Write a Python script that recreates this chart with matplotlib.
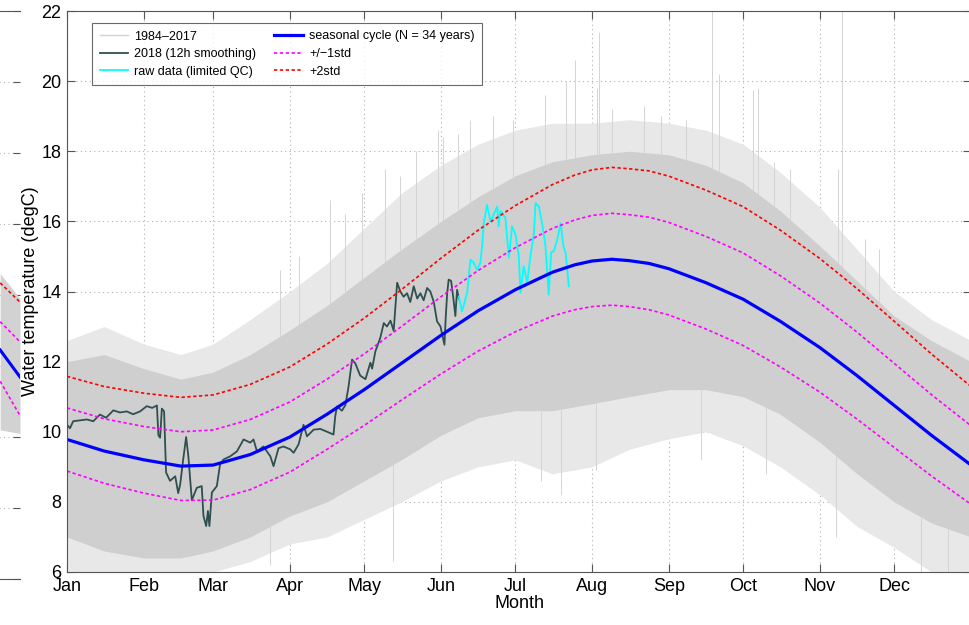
import numpy as np
import matplotlib
matplotlib.use("Agg")
import matplotlib.pyplot as plt

plt.rcParams['font.family'] = ['Liberation Sans', 'DejaVu Sans']

# month ticks (day of year)
month_days = [0, 31, 59, 90, 120, 151, 181, 212, 243, 273, 304, 334]
month_labels = ['Jan', 'Feb', 'Mar', 'Apr', 'May', 'Jun',
                'Jul', 'Aug', 'Sep', 'Oct', 'Nov', 'Dec']

# climatology, read every ~half month (a bit denser round the peak)
clim_days = [0, 15, 31, 46, 59, 74, 90, 105, 120, 135, 151, 166, 181,
             196, 205, 212, 220, 227, 235, 243, 258, 273, 288, 304, 319,
             334, 349, 365]
seasonal = [9.78, 9.45, 9.20, 9.02, 9.05, 9.35, 9.85, 10.50, 11.20, 11.95,
            12.75, 13.45, 14.05, 14.55, 14.76, 14.87, 14.92, 14.88, 14.80,
            14.65, 14.25, 13.78, 13.15, 12.40, 11.60, 10.75, 9.90, 9.05]
std1 = [0.90, 0.92, 0.95, 0.98, 1.00, 1.00, 1.00, 1.00, 1.02, 1.05, 1.10,
        1.15, 1.20, 1.25, 1.28, 1.30, 1.31, 1.31, 1.32, 1.32, 1.32, 1.32,
        1.30, 1.27, 1.24, 1.20, 1.16, 1.12]

# 1984-2017 envelope (dense core + sparse fringe)
env_days = [0, 15, 31, 46, 59, 74, 90, 105, 120, 135, 151, 166, 181,
            196, 212, 227, 243, 258, 273, 288, 304, 319, 334, 349, 365]
core_lo = [7.0, 6.6, 6.4, 6.4, 6.6, 7.0, 7.6, 8.0, 8.6, 9.2, 9.9, 10.4, 10.6,
           10.6, 10.8, 11.0, 11.2, 11.2, 11.0, 10.5, 9.7, 8.8, 8.0, 7.4, 7.0]
core_hi = [12.0, 12.2, 11.8, 11.5, 11.7, 12.2, 12.9, 13.6, 14.4, 15.2, 16.0,
           16.7, 17.3, 17.7, 17.9, 18.0, 17.9, 17.6, 17.1, 16.3, 15.3, 14.3,
           13.3, 12.6, 12.0]
outer_lo = [6.0, 5.8, 5.8, 5.8, 6.0, 6.3, 6.8, 7.0, 7.5, 8.0, 8.6, 9.0, 9.2,
            8.8, 9.0, 9.5, 9.8, 10.0, 9.6, 9.0, 8.2, 7.3, 6.7, 6.0, 6.0]
outer_hi = [12.6, 13.0, 12.5, 12.2, 12.5, 13.2, 14.0, 14.8, 15.8, 16.8, 17.6,
            18.2, 18.6, 18.8, 18.8, 18.9, 18.8, 18.6, 18.2, 17.4, 16.4, 15.2,
            14.0, 13.2, 12.6]

spike_days = [86.0, 93.5, 106.3, 112.4, 119.0, 128.5, 134.6, 141.0, 149.6,
              152.0, 158.0, 162.9, 172.0, 180.0, 193.0, 201.3, 205.3, 213.8,
              214.6, 220.0, 232.8, 240.0, 250.0, 260.3, 263.1, 276.9, 278.9,
              285.4, 292.0, 311.2, 312.9, 322.0, 328.0]
spike_tops = [14.6, 15.0, 16.6, 16.2, 16.8, 17.5, 17.3, 18.0, 18.6,
              18.4, 18.5, 18.9, 19.0, 18.9, 19.6, 20.0, 20.6, 19.8,
              21.4, 19.2, 19.3, 19.0, 18.9, 22.5, 20.2, 19.75, 19.8,
              17.7, 17.5, 17.5, 23.0, 15.5, 15.2]
dip_days = [82.1, 131.8, 191.2, 199.3, 213.4, 255.9, 282.1, 310.4, 344.8, 355.7]
dip_bottoms = [6.2, 6.3, 8.6, 8.2, 8.9, 9.2, 8.8, 7.0, 6.0, 6.0]

# 2018, 12h smoothing
y18_days = [0.0, 1.2, 2.5, 8.0, 10.6, 13.3, 15.8, 18.7, 21.4, 24.1, 26.7, 29.5,
            32.2, 34.4, 36.3, 36.9, 37.6, 38.3, 39.2, 40.0, 41.6, 43.7, 44.9,
            45.7, 46.9, 48.1, 49.0, 50.4, 52.4, 54.4, 55.1, 56.2, 56.9, 57.5,
            58.5, 60.5, 61.8, 63.2, 65.9, 68.6, 71.3, 74.0, 75.3, 76.7, 79.3,
            82.1, 83.4, 85.4, 87.4, 90.1, 91.5, 93.5, 95.5, 96.9, 99.6, 102.3,
            105.0, 107.6, 108.3, 109.0, 111.0, 112.4, 113.7, 115.1, 116.4,
            118.4, 120.5, 122.5, 123.2, 124.5, 126.5, 127.9, 129.2, 130.6,
            131.9, 133.3, 134.6, 135.9, 137.3, 138.6, 140.0, 141.4, 142.7,
            144.0, 145.4, 146.7, 148.1, 149.4, 150.8, 151.5, 152.4, 152.9,
            153.5, 154.1, 155.1, 156.1, 156.8, 157.5, 158.2]
y18_temp = [10.20, 10.10, 10.30, 10.35, 10.30, 10.49, 10.40, 10.61, 10.55,
            10.58, 10.50, 10.58, 10.73, 10.68, 10.75, 9.90, 9.83, 10.66, 10.58,
            8.84, 8.60, 8.73, 8.25, 8.50, 9.20, 9.85, 9.30, 8.05, 8.40, 8.45,
            7.60, 7.31, 7.74, 7.31, 8.27, 8.45, 9.07, 9.21, 9.30, 9.44, 9.78,
            9.69, 9.78, 9.44, 9.58, 9.30, 9.02, 9.53, 9.58, 9.50, 9.40, 9.64,
            10.20, 9.87, 10.06, 10.08, 10.00, 9.92, 10.44, 10.72, 10.60, 10.76,
            11.30, 12.06, 11.95, 11.60, 11.50, 11.97, 11.80, 12.29, 12.68,
            13.10, 13.00, 13.17, 12.88, 14.25, 14.00, 13.85, 13.95, 13.70,
            14.15, 13.80, 13.95, 13.75, 14.10, 14.00, 13.70, 13.15, 13.00,
            12.77, 12.48, 13.24, 13.95, 14.34, 14.30, 13.75, 13.30, 14.05, 13.80]

# raw data (limited QC)
raw_days = [158.2, 159.5, 161.6, 162.9, 164.2, 165.6, 166.9, 167.6, 168.3,
            169.6, 171.0, 172.3, 173.7, 174.3, 175.0, 177.0, 178.4, 179.7,
            181.1, 182.4, 183.1, 184.4, 185.8, 187.1, 188.5, 189.2, 190.5,
            191.9, 193.2, 194.5, 195.5, 196.6, 197.9, 199.3, 200.4, 201.3, 202.6]
raw_temp = [13.86, 13.43, 13.98, 14.91, 14.82, 14.62, 14.82, 15.29, 15.96,
            16.47, 16.00, 16.20, 16.42, 15.86, 16.30, 16.10, 14.96, 15.86,
            15.62, 15.01, 13.96, 14.72, 14.25, 15.00, 15.66, 16.52, 16.43,
            15.91, 15.29, 13.91, 15.12, 15.15, 15.48, 15.95, 15.30, 15.10, 14.15]

# neighbouring panel (only its last days are visible on the left edge)
left_days = [357, 365]
left_seasonal = [12.45, 11.69]
left_std1 = [0.80, 0.99]
left_red = [14.34, 13.80]
left_gray_lo = [10.2, 10.1]
left_gray_hi = [14.6, 13.9]

W, H = 970, 625
fig = plt.figure(figsize=(W / 100, H / 100), dpi=100)

axis_col = '#555555'
grid_kw = dict(color='#b0b0b0', linestyle=(0, (1, 3)), linewidth=0.8)
blue, mag, red = '#0000ff', '#ff00ff', '#ff0000'
dot = (0, (2, 1.5))

# ---- left neighbour panel
axl = fig.add_axes([(20 - 904) / W, (H - 579) / H, 904 / W, 568 / H])
axl.set_xlim(0, 365)
axl.set_ylim(6, 22)
axl.fill_between(left_days, left_gray_lo, left_gray_hi, color='#d2d2d2', lw=0)
ls = np.array(left_seasonal)
lsd = np.array(left_std1)
axl.plot(left_days, left_red, color=red, ls=dot, lw=1.2)
axl.plot(left_days, ls + lsd, color=mag, ls=dot, lw=1.2)
axl.plot(left_days, ls - lsd * 1.1, color=mag, ls=dot, lw=1.2)
axl.plot(left_days, ls, color=blue, lw=2.2)
axl.set_yticks(np.arange(6, 23, 2))
axl.set_xticks([])
axl.yaxis.tick_right()
axl.tick_params(axis='y', direction='in', length=5, color=axis_col, labelright=False)
axl.grid(axis='y', **grid_kw)
axl.set_axisbelow(True)
axl.spines['right'].set_visible(False)
for s in axl.spines.values():
    s.set_color(axis_col)

# ---- main panel
ax = fig.add_axes([67 / W, (H - 572) / H, 904 / W, 561 / H])
ax.set_xlim(0, 365)
ax.set_ylim(6, 22)

ax.fill_between(env_days, outer_lo, outer_hi, color='#e8e8e8', lw=0)
ax.fill_between(env_days, core_lo, core_hi, color='#cfcfcf', lw=0)
ax.vlines(spike_days, np.interp(spike_days, env_days, core_hi), spike_tops,
          color='#d4d4d4', lw=0.7)
ax.vlines(dip_days, dip_bottoms, np.interp(dip_days, env_days, core_lo),
          color='#d4d4d4', lw=0.7)

sc = np.array(seasonal)
sd = np.array(std1)
ax.plot([], [], color='#d3d3d3', lw=1, label='1984\u20132017')
ax.plot(y18_days, y18_temp, color='#2f4f4f', lw=1.3, label='2018 (12h smoothing)')
ax.plot(raw_days, raw_temp, color='#00ffff', lw=1.3, label='raw data (limited QC)')
ax.plot(clim_days, sc, color=blue, lw=2.3, label='seasonal cycle (N = 34 years)')
ax.plot(clim_days, sc + sd, color=mag, ls=dot, lw=1.2, label='+/\u22121std')
ax.plot(clim_days, sc - sd, color=mag, ls=dot, lw=1.2)
ax.plot(clim_days, sc + 2 * sd, color=red, ls=dot, lw=1.2, label='+2std')

ax.set_xticks(month_days)
ax.set_xticklabels(month_labels)
ax.set_yticks(np.arange(6, 23, 2))
ax.tick_params(direction='in', length=5.5, color=axis_col, labelsize=13,
               top=True, right=True, pad=4)
ax.grid(True, **grid_kw)
ax.set_axisbelow(True)
for s in ax.spines.values():
    s.set_color(axis_col)

ax.set_xlabel('Month', fontsize=13, labelpad=0)
ax.set_ylabel('Water temperature (degC)', fontsize=13, labelpad=2)

leg = ax.legend(loc='upper left', bbox_to_anchor=(25 / 904, 1 - 12 / 561),
                ncol=2, fontsize=9, frameon=True, fancybox=False,
                borderaxespad=0, handlelength=2.3, columnspacing=1.4,
                labelspacing=0.45, borderpad=0.6, handletextpad=0.5)
leg.get_frame().set_edgecolor('#444444')
leg.get_frame().set_linewidth(0.8)

fig.savefig('out.png', dpi=100)
